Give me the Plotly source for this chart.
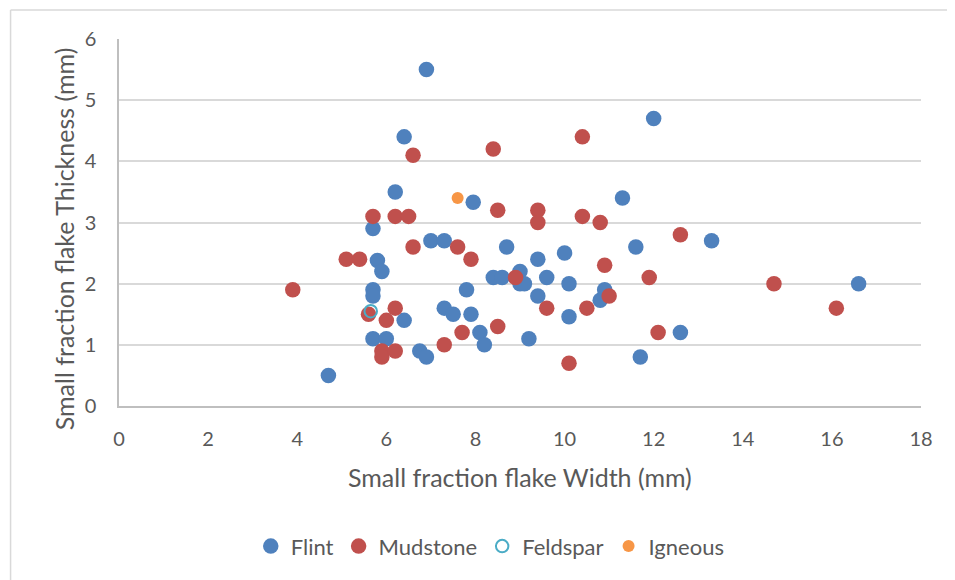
import plotly.graph_objects as go

# ---- data ----
flint_w = [4.7, 6.9, 6.4, 6.2, 12.0, 7.95, 11.3, 5.7, 7.0, 7.3, 8.7, 11.6, 13.3, 5.8, 5.9,
           10.0, 9.4, 8.4, 8.6, 9.0, 9.0, 9.1, 9.6, 10.1, 7.8, 5.7, 5.7, 9.4, 10.8, 10.9,
           16.6, 7.3, 7.5, 7.9, 6.4, 8.1, 8.2, 9.2, 10.1, 12.6, 5.7, 6.0, 6.75, 6.9, 11.7]
flint_t = [0.5, 5.5, 4.4, 3.5, 4.7, 3.33, 3.4, 2.9, 2.7, 2.7, 2.6, 2.6, 2.7, 2.38, 2.2,
           2.5, 2.4, 2.1, 2.1, 2.2, 2.0, 2.0, 2.1, 2.0, 1.9, 1.9, 1.8, 1.8, 1.73, 1.9,
           2.0, 1.6, 1.5, 1.5, 1.4, 1.2, 1.0, 1.1, 1.46, 1.2, 1.1, 1.1, 0.9, 0.8, 0.8]

mud_w = [3.9, 5.1, 5.4, 5.6, 6.2, 6.0, 5.9, 5.9, 6.2, 6.6, 7.6, 7.9, 10.9, 8.9, 9.6, 10.5,
         11.0, 7.7, 8.5, 7.3, 10.1, 6.6, 8.4, 10.4, 8.5, 9.4, 9.4, 10.4, 10.8, 5.7, 6.2,
         6.5, 12.6, 11.9, 14.7, 16.1, 12.1]
mud_t = [1.9, 2.4, 2.4, 1.5, 1.6, 1.4, 0.9, 0.8, 0.9, 2.6, 2.6, 2.4, 2.3, 2.1, 1.6, 1.6,
         1.8, 1.2, 1.3, 1.0, 0.7, 4.1, 4.2, 4.4, 3.2, 3.2, 3.0, 3.1, 3.0, 3.1, 3.1,
         3.1, 2.8, 2.1, 2.0, 1.6, 1.2]

feld_w = [5.65]
feld_t = [1.55]

ign_w = [7.6]
ign_t = [3.4]

x_ticks = [0, 2, 4, 6, 8, 10, 12, 14, 16, 18]
y_ticks = [0, 1, 2, 3, 4, 5, 6]

FONT = "Lato"
GREY = "#595959"

# page offset (body margin) compensation
OFF = 8
L = 118.5 - OFF
T = 39 - OFF
PW = 802.5
PH = 367.5
R = 955 - L - PW
B = 580 - T - PH


def px(xp):
    return (xp - OFF - L) / PW


def py(yp):
    return (T + PH - (yp - OFF)) / PH


fig = go.Figure()
fig.add_trace(go.Scatter(x=flint_w, y=flint_t, mode="markers", name="Flint",
                         marker=dict(color="#4F81BD", size=15.5, line=dict(width=0))))
fig.add_trace(go.Scatter(x=mud_w, y=mud_t, mode="markers", name="Mudstone",
                         marker=dict(color="#C0504D", size=15.5, line=dict(width=0))))
fig.add_trace(go.Scatter(x=feld_w, y=feld_t, mode="markers", name="Feldspar",
                         marker=dict(color="rgba(255,255,255,0)", size=12.5,
                                     line=dict(color="#4BACC6", width=2))))
fig.add_trace(go.Scatter(x=ign_w, y=ign_t, mode="markers", name="Igneous",
                         marker=dict(color="#F79646", size=12, line=dict(width=0))))

fig.update_layout(
    width=955, height=580,
    margin=dict(l=L, r=R, t=T, b=B),
    paper_bgcolor="white", plot_bgcolor="white",
    font=dict(family=FONT, color=GREY),
    showlegend=True,
    legend=dict(orientation="h", x=px(490), xanchor="center", y=py(547), yanchor="middle",
                font=dict(family=FONT, size=22, color=GREY), itemsizing="trace",
                itemwidth=30, tracegroupgap=0),
    xaxis=dict(range=[0, 18], tickvals=x_ticks, showgrid=False, zeroline=False,
               showline=True, linecolor="#BFBFBF", linewidth=1.5,
               ticks="outside", ticklen=14, tickcolor="rgba(0,0,0,0)",
               tickfont=dict(family=FONT, size=20, color=GREY)),
    yaxis=dict(range=[0, 6], tickvals=y_ticks, showgrid=True, gridcolor="#D9D9D9",
               gridwidth=1.5, zeroline=False, showline=True, linecolor="#BFBFBF",
               linewidth=1.5, ticks="outside", ticklen=17, tickcolor="rgba(0,0,0,0)",
               tickfont=dict(family=FONT, size=20, color=GREY)),
    annotations=[
        dict(text="Small fraction flake Width (mm)", xref="paper", yref="paper",
             x=px(520), y=py(478), xanchor="center",
             yanchor="middle", showarrow=False, font=dict(family=FONT, size=25, color=GREY)),
        dict(text="Small fraction flake Thickness (mm)", xref="paper", yref="paper",
             x=px(63), y=py(239), xanchor="center",
             yanchor="middle", textangle=-90, showarrow=False,
             font=dict(family=FONT, size=25, color=GREY)),
    ],
    shapes=[
        dict(type="line", xref="paper", yref="paper",
             x0=px(10), x1=px(970), y0=py(10), y1=py(10),
             line=dict(color="#D9D9D9", width=1.5)),
        dict(type="line", xref="paper", yref="paper",
             x0=px(10), x1=px(10), y0=py(10), y1=py(600),
             line=dict(color="#D9D9D9", width=1.5)),
    ],
)

fig.write_html("out.html")
